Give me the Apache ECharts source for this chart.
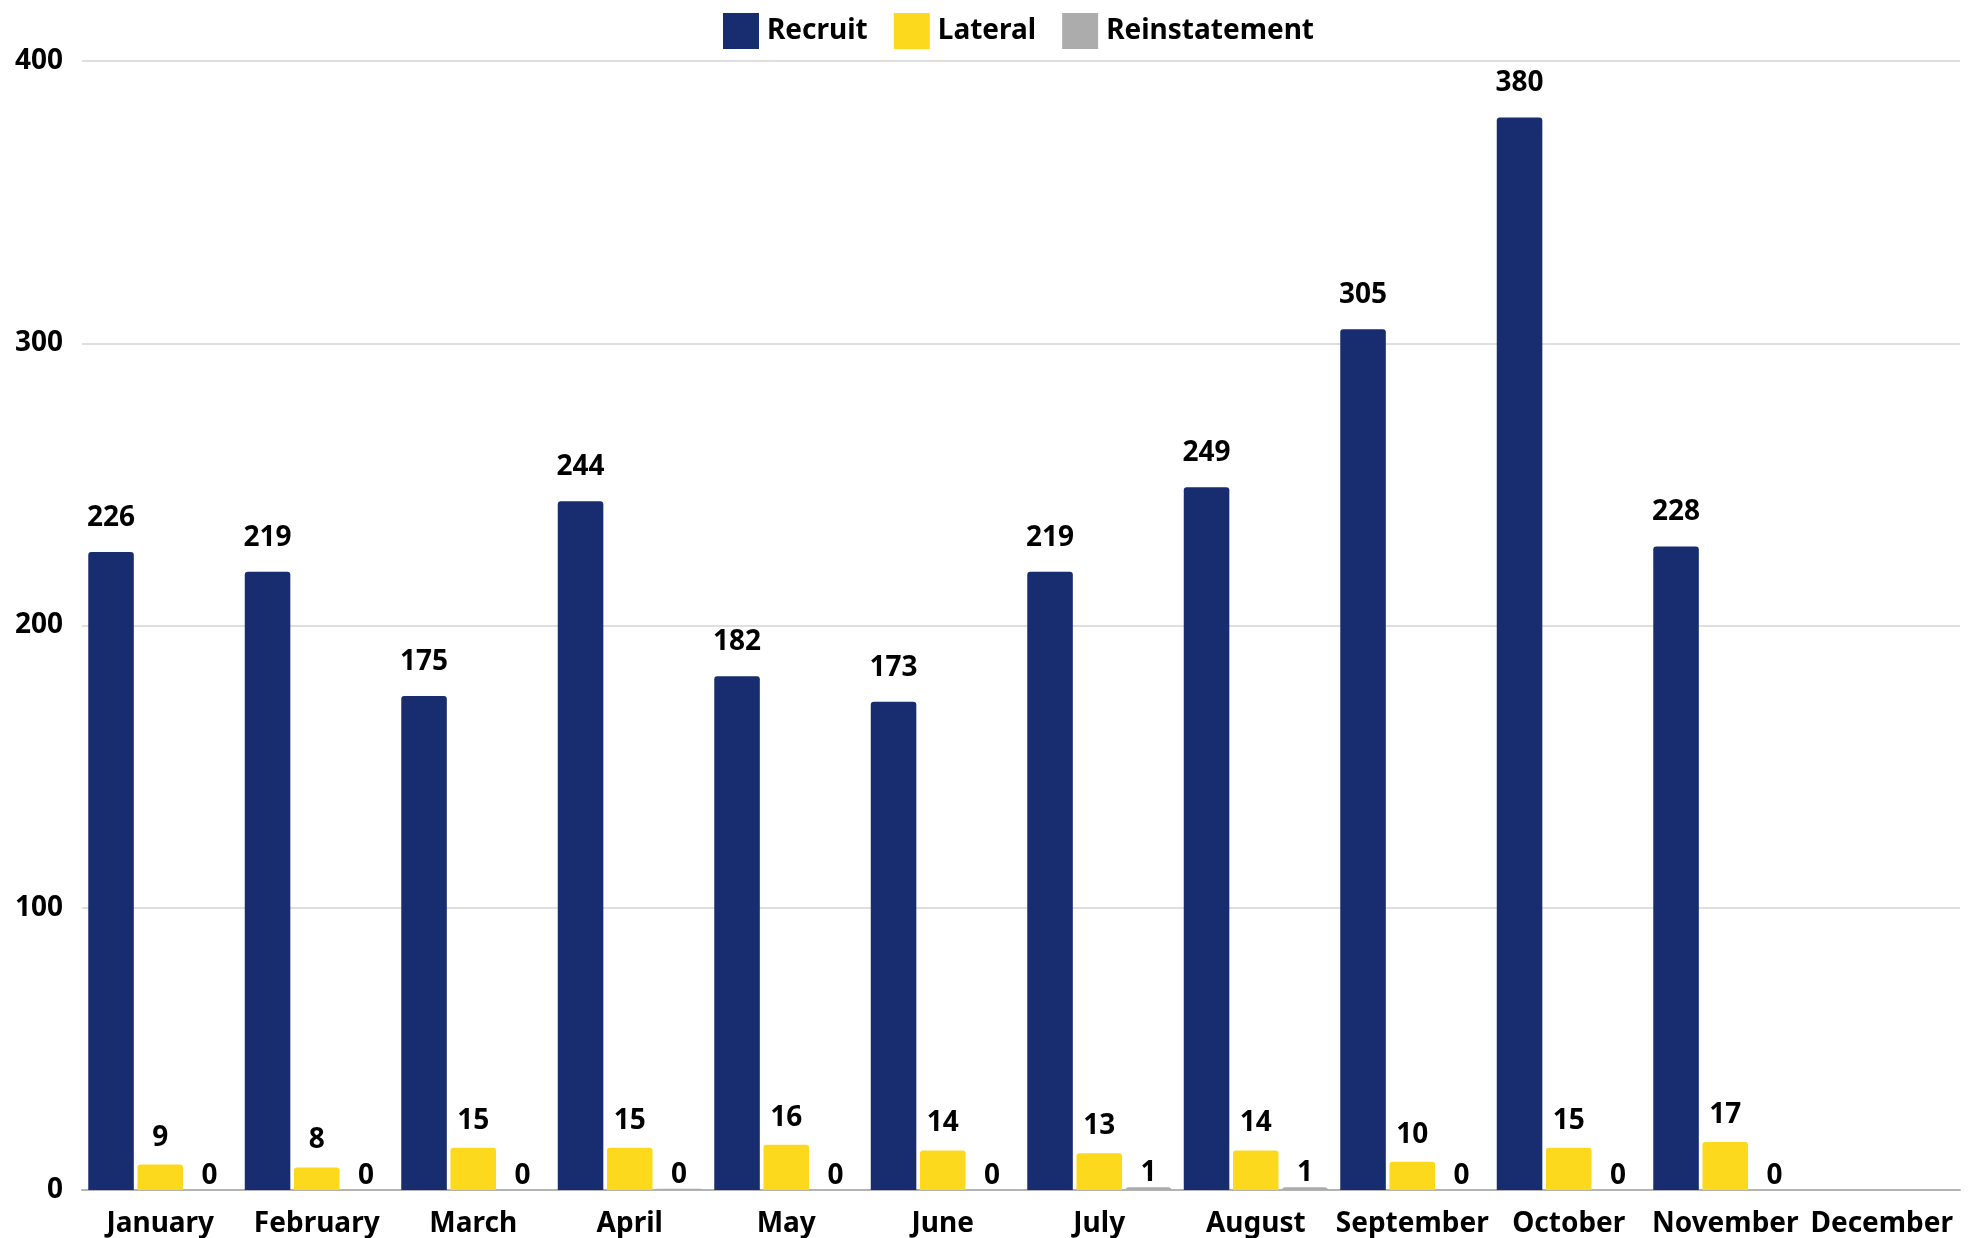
<!DOCTYPE html>
<html>
<head>
<meta charset="utf-8">
<script src="https://cdn.jsdelivr.net/npm/echarts@6/dist/echarts.min.js"></script>
<style>
html,body{margin:0;padding:0;background:#fff;}
#chart{width:1969px;height:1238px;}
</style>
</head>
<body>
<div id="chart"></div>
<script>
const months = ['January','February','March','April','May','June','July','August','September','October','November','December'];
const recruit = [226, 219, 175, 244, 182, 173, 219, 249, 305, 380, 228, null];
const lateral = [9, 8, 15, 15, 16, 14, 13, 14, 10, 15, 17, null];
const reinstatement = [0, 0, 0, 0.4, 0, 0, 1, 1, 0, 0, 0, null];
const yTicks = [0, 100, 200, 300, 400];

const FONT = 'Noto Sans';
function labelStyle(distance) {
  return {
    show: true,
    position: 'top',
    distance,
    color: '#000',
    fontFamily: FONT,
    fontWeight: 'bold',
    fontSize: 28,
    formatter: p => (p.value == null ? '' : String(Math.round(p.value)))
  };
}

function barSeries(name, data, color, labelDistance) {
  return {
    name, type: 'bar', data,
    barGap: '8%', barCategoryGap: '8%',
    itemStyle: { color, borderRadius: [3, 3, 0, 0] },
    label: labelStyle(labelDistance),
    emphasis: { disabled: true }
  };
}

const chart = echarts.init(document.getElementById('chart'));
chart.setOption({
  animation: false,
  backgroundColor: '#fff',
  legend: {
    top: 8, left: 718,
    itemWidth: 36, itemHeight: 36, itemGap: 26,
    icon: 'rect',
    textStyle: { fontFamily: FONT, fontWeight: 'bold', fontSize: 28, color: '#000', padding: [0, 0, 0, 3] },
    data: ['Recruit', 'Lateral', 'Reinstatement']
  },
  grid: { left: 82, right: 9, top: 61, bottom: 47, containLabel: false },
  xAxis: {
    type: 'category', data: months,
    axisTick: { show: false },
    axisLine: { lineStyle: { color: '#b3b3b3', width: 2 } },
    axisLabel: { fontFamily: FONT, fontWeight: 'bold', fontSize: 28, color: '#000', margin: 20, interval: 0 }
  },
  yAxis: {
    type: 'value', min: yTicks[0], max: yTicks[yTicks.length - 1], interval: 100,
    axisLine: { show: false }, axisTick: { show: false },
    splitLine: { lineStyle: { color: '#d4d4d4', width: 1.5 } },
    axisLabel: { fontFamily: FONT, fontWeight: 'bold', fontSize: 28, color: '#000', margin: 19 }
  },
  series: [
    barSeries('Recruit', recruit, '#172d6f', 20),
    barSeries('Lateral', lateral, '#fdd91e', 13),
    barSeries('Reinstatement', reinstatement, '#acacac', 0)
  ]
});
</script>
</body>
</html>
